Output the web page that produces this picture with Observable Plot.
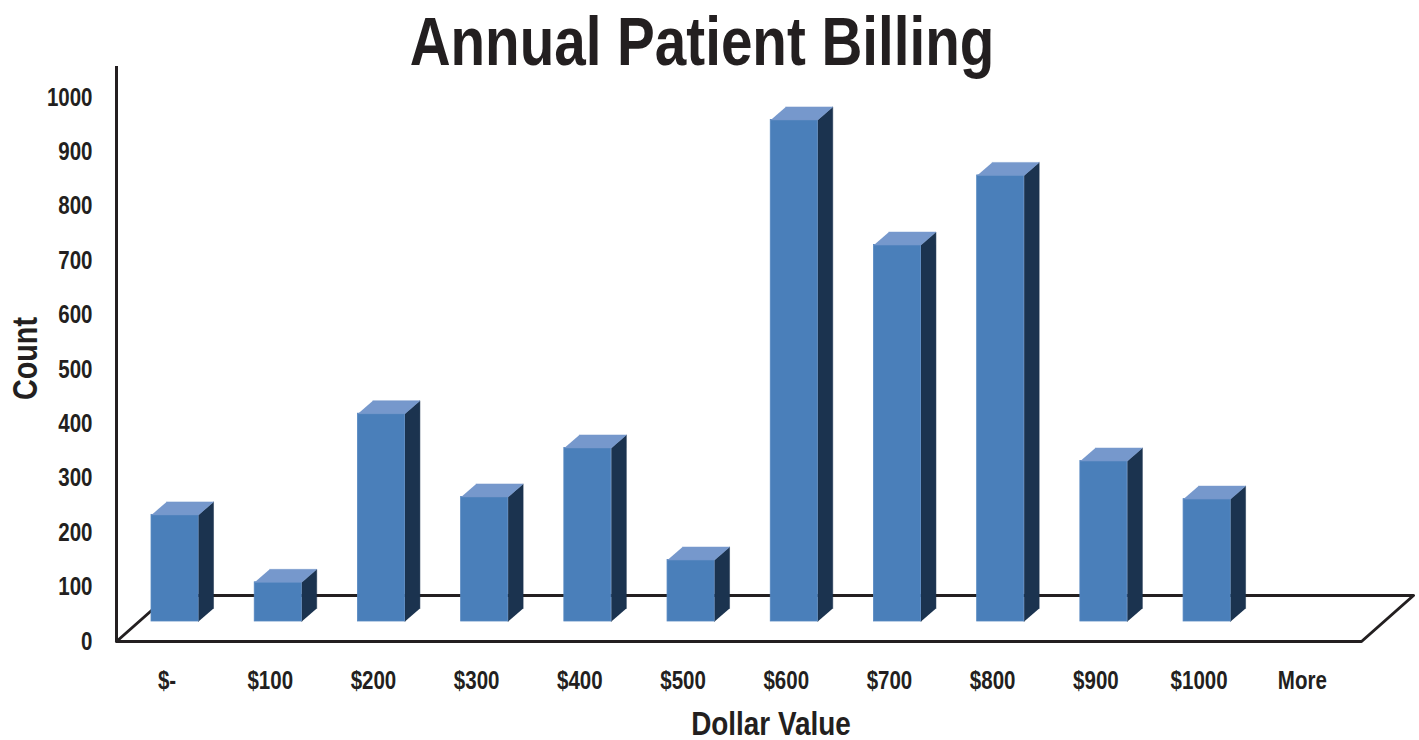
<!DOCTYPE html>
<html>
<head>
<meta charset="utf-8">
<script src="https://cdn.jsdelivr.net/npm/d3@7"></script>
<script src="https://cdn.jsdelivr.net/npm/@observablehq/plot@0.6"></script>
<style>
  body { margin: 0; background: #fff; }
  #chart svg { display: block; }
</style>
</head>
<body>
<div id="chart"></div>
<script>
// Histogram bins and their counts
const bins = ["$-", "$100", "$200", "$300", "$400", "$500", "$600", "$700", "$800", "$900", "$1000", "More"];
const counts = [196, 72, 382, 229, 319, 113, 922, 692, 820, 295, 225, 0];
const countTicks = [0, 100, 200, 300, 400, 500, 600, 700, 800, 900, 1000];

const FONT = "'Liberation Sans', Arial, sans-serif";
const NARROW = 0.82; // condensed look: glyphs squeezed horizontally

// Scales: x in bin units, y in counts
const width = 1419, height = 740;
const margin = {top: 66, right: 6, bottom: 98, left: 116};
const xDomain = [-0.567, 12];
const yDomain = [0, 1000];
const yRange = [641, 97];
const pxPerX = (width - margin.right - margin.left) / (xDomain[1] - xDomain[0]);
const pxPerY = (yRange[0] - yRange[1]) / (yDomain[1] - yDomain[0]);

// Oblique 3D geometry, expressed in data units
const floorDX = 52 / pxPerX, floorDY = 46 / pxPerY;   // floor depth
const baseY = 20 / pxPerY;                            // bars stand mid-floor
const halfW = 23.5 / pxPerX;                          // half front-face width
const depthX = 15 / pxPerX, depthY = 13 / pxPerY;     // bar depth

const data = bins.map((bin, i) => ({bin, i, count: counts[i]}));
const bars = data.filter(d => d.count > 0);

// Floor parallelogram (front edge at count 0)
const fx0 = xDomain[0], fx1 = xDomain[1] - floorDX;
const floor = [
  {x: fx0, y: 0}, {x: fx1, y: 0},
  {x: fx1 + floorDX, y: floorDY}, {x: fx0 + floorDX, y: floorDY},
  {x: fx0, y: 0}
];

// Top and side faces of each bar as closed polygons
const tops = bars.flatMap(d => {
  const x1 = d.i - halfW, x2 = d.i + halfW, y = baseY + d.count;
  return [
    {id: d.bin, x: x1, y}, {id: d.bin, x: x2, y},
    {id: d.bin, x: x2 + depthX, y: y + depthY}, {id: d.bin, x: x1 + depthX, y: y + depthY}
  ];
});
const sides = bars.flatMap(d => {
  const x2 = d.i + halfW, y = baseY + d.count;
  return [
    {id: d.bin, x: x2, y: baseY}, {id: d.bin, x: x2, y},
    {id: d.bin, x: x2 + depthX, y: y + depthY}, {id: d.bin, x: x2 + depthX, y: baseY + depthY}
  ];
});

const ink = "#231f20";

const chart = Plot.plot({
  width, height,
  marginTop: margin.top, marginRight: margin.right,
  marginBottom: margin.bottom, marginLeft: margin.left,
  style: {fontFamily: FONT, background: "#fff", color: ink},
  x: {type: "linear", domain: xDomain, range: [margin.left, width - margin.right]},
  y: {type: "linear", domain: yDomain, range: yRange},
  marks: [
    // floor
    Plot.line(floor, {x: "x", y: "y", fill: "#fff", stroke: ink, strokeWidth: 3}),
    // bars: side, front, top
    Plot.line(sides, {x: "x", y: "y", z: "id", fill: "#1b334f", stroke: "#1b334f", strokeWidth: 0.5}),
    Plot.rect(bars, {
      x1: d => d.i - halfW, x2: d => d.i + halfW,
      y1: baseY, y2: d => baseY + d.count,
      fill: "#4a7fba", stroke: "#5587c1", strokeWidth: 0.8
    }),
    Plot.line(tops, {x: "x", y: "y", z: "id", fill: "#7698cc", stroke: "#7698cc", strokeWidth: 0.5}),
    // value axis line
    Plot.ruleX([xDomain[0]], {stroke: ink, strokeWidth: 3}),
    Plot.axisY(countTicks, {
      tickSize: 0, tickPadding: 24, fontSize: 25, fontWeight: "bold", label: null,
      tickFormat: d => String(d)
    }),
    Plot.axisX(data.map(d => d.i), {
      tickSize: 0, tickPadding: 29, fontSize: 25, fontWeight: "bold", label: null,
      tickFormat: i => bins[i], dx: -8
    }),
    // titles
    Plot.text(["Annual Patient Billing"], {
      frameAnchor: "top", lineAnchor: "bottom", dx: -63, dy: -2,
      fontSize: 69, fontWeight: "bold", fill: ink
    }),
    Plot.text(["Count"], {
      frameAnchor: "left", textAnchor: "middle", rotate: -90, dx: -91, dy: 4,
      fontSize: 35, fontWeight: "bold", fill: ink
    }),
    Plot.text(["Dollar Value"], {
      frameAnchor: "bottom", lineAnchor: "bottom", dx: 6, dy: 92,
      fontSize: 34, fontWeight: "bold", fill: ink
    })
  ]
});

document.getElementById("chart").append(chart);

// Squeeze every label to a condensed width, keeping its anchor
d3.select(chart).selectAll("text").each(function() {
  const len = this.getComputedTextLength();
  if (len > 0) {
    this.setAttribute("textLength", (len * NARROW).toFixed(2));
    this.setAttribute("lengthAdjust", "spacingAndGlyphs");
  }
});
</script>
</body>
</html>
